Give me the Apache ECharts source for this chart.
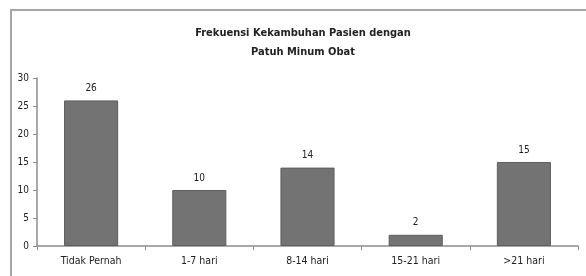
<!DOCTYPE html>
<html>
<head>
<meta charset="utf-8">
<script src="https://cdn.jsdelivr.net/npm/echarts@6/dist/echarts.min.js"></script>
<style>
  html, body { margin: 0; padding: 0; background: #fff; }
  #chart { width: 586px; height: 276px; }
</style>
</head>
<body>
<div id="chart"></div>
<script>
const categories = ['Tidak Pernah', '1-7 hari', '8-14 hari', '15-21 hari', '>21 hari'];
const values = [26, 10, 14, 2, 15];
const titleText = 'Frekuensi Kekambuhan Pasien dengan\nPatuh Minum Obat';

const font = '"Liberation Sans Narrow", "DejaVu Sans Condensed", sans-serif';

const myChart = echarts.init(document.getElementById('chart'));
const option = {
  animation: false,
  // kotak luar
  graphic: [{
    type: 'rect',
    shape: { x: 11, y: 10, width: 700, height: 400 },
    style: { fill: 'none', stroke: '#a6a6a6', lineWidth: 2 },
    silent: true
  }],
  title: {
    text: titleText,
    left: 298,
    top: 19,
    textAlign: 'center',
    textStyle: {
      fontFamily: font,
      fontSize: 11,
      fontWeight: 'bold',
      color: '#222',
      lineHeight: 19
    }
  },
  grid: { left: 37, right: 8, top: 78, bottom: 30, containLabel: false },
  xAxis: {
    type: 'category',
    data: categories,
    axisLine: { lineStyle: { color: '#8c8c8c', width: 1.5 } },
    axisTick: { show: true, alignWithLabel: false, length: 4, lineStyle: { color: '#8c8c8c' } },
    axisLabel: { fontFamily: font, fontSize: 10.5, color: '#222', margin: 10 }
  },
  yAxis: {
    type: 'value',
    min: 0,
    max: 30,
    interval: 5,
    splitLine: { show: false },
    axisLine: { show: true, lineStyle: { color: '#8c8c8c', width: 1.5 } },
    axisTick: { show: true, length: 4, lineStyle: { color: '#8c8c8c' } },
    axisLabel: { fontFamily: font, fontSize: 10, color: '#222', margin: 8 }
  },
  series: [{
    type: 'bar',
    data: values,
    barWidth: '50%',
    itemStyle: { color: '#737373', borderColor: '#5e5e5e', borderWidth: 1 },
    label: {
      show: true,
      position: 'top',
      distance: 7,
      fontFamily: font,
      fontSize: 10,
      color: '#222'
    }
  }]
};
myChart.setOption(option);
</script>
</body>
</html>
